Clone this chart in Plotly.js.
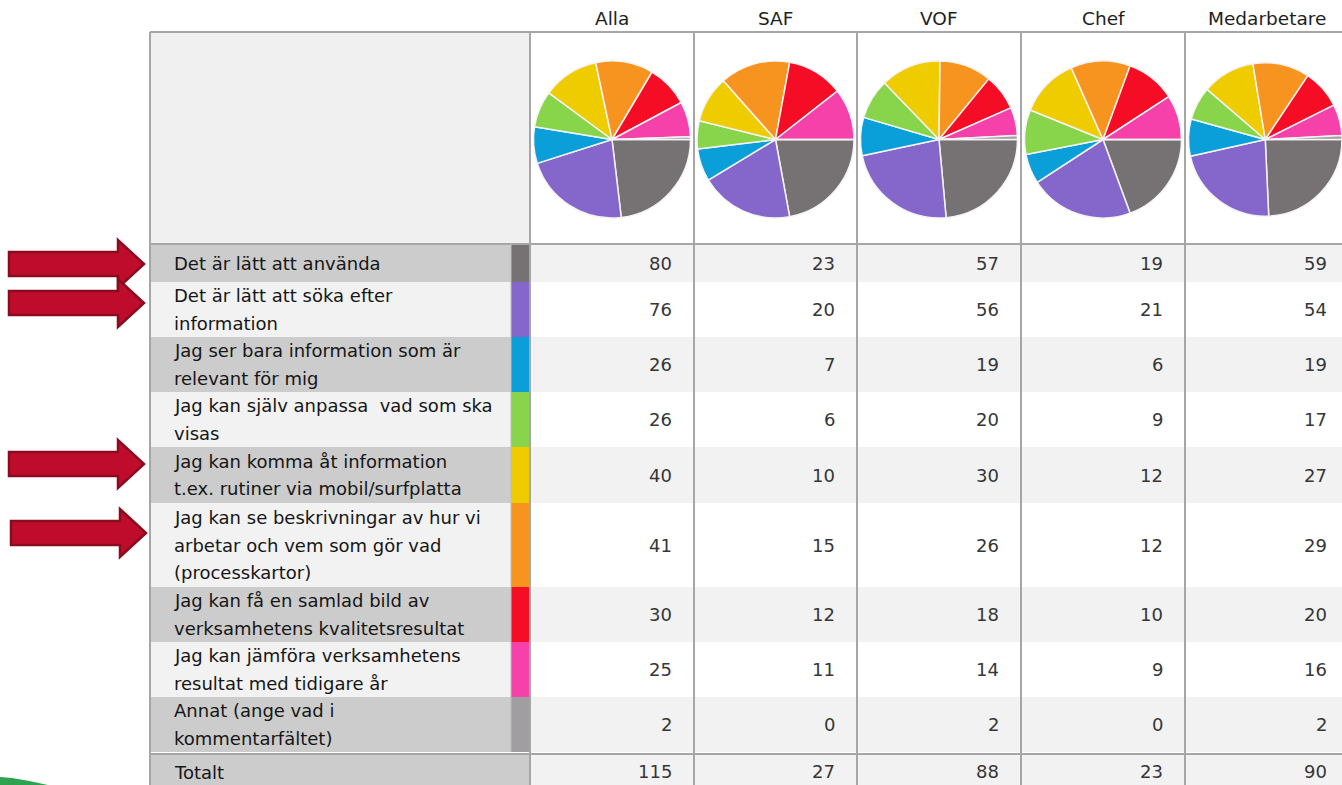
<!DOCTYPE html>
<html>
<head>
<meta charset="utf-8">
<script src="https://cdn.plot.ly/plotly-3.0.1.min.js"></script>
<style>
html,body{margin:0;padding:0;background:#fff;}
#chart{width:1342px;height:785px;}
</style>
</head>
<body>
<div id="chart"></div>
<script>
// ---------- DATA ----------
const groups = ['Alla', 'SAF', 'VOF', 'Chef', 'Medarbetare'];
const categories = [
  'Det är lätt att använda',
  'Det är lätt att söka efter<br>information',
  'Jag ser bara information som är<br>relevant för mig',
  'Jag kan själv anpassa  vad som ska<br>visas',
  'Jag kan komma åt information<br>t.ex. rutiner via mobil/surfplatta',
  'Jag kan se beskrivningar av hur vi<br>arbetar och vem som gör vad<br>(processkartor)',
  'Jag kan få en samlad bild av<br>verksamhetens kvalitetsresultat',
  'Jag kan jämföra verksamhetens<br>resultat med tidigare år',
  'Annat (ange vad i<br>kommentarfältet)'
];
const alla        = [80, 76, 26, 26, 40, 41, 30, 25, 2];
const saf         = [23, 20, 7, 6, 10, 15, 12, 11, 0];
const vof         = [57, 56, 19, 20, 30, 26, 18, 14, 2];
const chef        = [19, 21, 6, 9, 12, 12, 10, 9, 0];
const medarbetare = [59, 54, 19, 17, 27, 29, 20, 16, 2];
const totalLabel  = 'Totalt';
const totals      = [115, 27, 88, 23, 90];
const sliceColors = ['#767274', '#8567cb', '#0a9fd8', '#88d44a', '#efcc00',
                     '#f7941f', '#f50c25', '#f640aa', '#a09ea0'];

// ---------- LAYOUT GEOMETRY ----------
const W = 1342, H = 785;
const series = [alla, saf, vof, chef, medarbetare];
const colEdges = [530, 694, 857, 1021, 1185, 1349];
const tableLeft = 150, stripLeft = 511, stripRight = 530;
const topLine = 32, pieRowBottom = 244;
const rowEdges = [245, 282, 337, 392, 447, 503, 587, 642, 697, 752];
const totalTop = 755, totalBottom = 790;
const lineGap = 27.5;
const pieCy = 139.5, pieR = 78.5;
const borderColor = '#a6a6a6';
const FONT = 'DejaVu Sans, sans-serif';

const shapes = [];
const annotations = [];

function rect(x0, y0, x1, y1, fill) {
  shapes.push({type: 'rect', xref: 'x', yref: 'y', x0, y0, x1, y1,
    fillcolor: fill, line: {width: 0}, layer: 'below'});
}
function line(x0, y0, x1, y1, color, w) {
  shapes.push({type: 'line', xref: 'x', yref: 'y', x0, y0, x1, y1,
    line: {color: color, width: w}, layer: 'below'});
}
function text(x, y, t, anchor, size, color) {
  annotations.push({xref: 'x', yref: 'y', x, y, text: t, showarrow: false,
    xanchor: anchor, yanchor: 'middle', align: anchor,
    font: {family: FONT, size: size, color: color}});
}

// pie header row backgrounds
rect(tableLeft, topLine, stripRight, pieRowBottom, '#f0f0f0');

// category rows
categories.forEach((cat, i) => {
  const y0 = rowEdges[i], y1 = rowEdges[i + 1];
  const odd = i % 2 === 0;
  rect(tableLeft, y0, stripLeft, y1, odd ? '#cccccc' : '#f2f2f2');
  rect(stripLeft, y0, stripRight, y1, sliceColors[i]);
  rect(stripRight, y0, colEdges[colEdges.length - 1], y1, odd ? '#f2f2f2' : '#ffffff');
  const lines = cat.split('<br>');
  const cy = (y0 + y1) / 2;
  lines.forEach((ln, k) => {
    text(172, cy + (k - (lines.length - 1) / 2) * lineGap, ln, 'left', 18, '#161616');
  });
  series.forEach((s, g) => {
    text(colEdges[g + 1] - 20, cy, String(s[i]), 'right', 18, '#363636');
  });
});

// total row
rect(tableLeft, totalTop, stripRight, totalBottom, '#cccccc');
rect(stripRight, totalTop, colEdges[colEdges.length - 1], totalBottom, '#f2f2f2');
text(172, 772, totalLabel, 'left', 18, '#161616');
totals.forEach((t, g) => text(colEdges[g + 1] - 20, 771, String(t), 'right', 18, '#363636'));

// header labels
groups.forEach((g, k) => text((colEdges[k] + colEdges[k + 1]) / 2, 18, g, 'center', 18.5, '#1e1e1e'));

// borders
line(tableLeft, topLine, W, topLine, borderColor, 2);
line(tableLeft, pieRowBottom, W, pieRowBottom, borderColor, 2);
line(tableLeft, 754, W, 754, borderColor, 2);
line(tableLeft, topLine, tableLeft, H + 5, borderColor, 2);
colEdges.slice(0, 5).forEach(x => line(x, topLine, x, H + 5, borderColor, 2));
line(stripLeft, pieRowBottom, stripLeft, 752, '#bdbdbd', 1);

// decorative arrows
function arrow(left, base, tip, cy) {
  const s = 12, h = 24;
  shapes.push({type: 'path', xref: 'x', yref: 'y',
    path: `M ${left} ${cy - s} L ${base} ${cy - s} L ${base} ${cy - h} L ${tip} ${cy} L ${base} ${cy + h} L ${base} ${cy + s} L ${left} ${cy + s} Z`,
    fillcolor: '#c00c2c', line: {color: '#8a0a1e', width: 2.5}, layer: 'above'});
}
arrow(9, 118, 144, 264);
arrow(9, 118, 144, 303);
arrow(9, 118, 144, 464);
arrow(11, 120, 146, 533);

// green corner decoration
shapes.push({type: 'path', xref: 'x', yref: 'y',
  path: 'M 0 777 L 12 778 Q 32 781 52 786 L 0 786 Z',
  fillcolor: '#2ea24f', line: {width: 0}, layer: 'above'});

// ---------- TRACES ----------
const traces = series.map((vals, g) => {
  const cx = (colEdges[g] + colEdges[g + 1]) / 2;
  return {
    type: 'pie',
    values: vals,
    labels: categories,
    sort: false,
    direction: 'clockwise',
    rotation: 90,
    textinfo: 'none',
    hoverinfo: 'skip',
    showlegend: false,
    marker: {colors: sliceColors, line: {color: '#f4f4f4', width: 1.5}},
    domain: {x: [(cx - pieR) / W, (cx + pieR) / W],
             y: [1 - (pieCy + pieR) / H, 1 - (pieCy - pieR) / H]}
  };
});

const layout = {
  width: W, height: H,
  margin: {l: 0, r: 0, t: 0, b: 0},
  paper_bgcolor: '#ffffff', plot_bgcolor: 'rgba(0,0,0,0)',
  xaxis: {range: [0, W], visible: false, fixedrange: true},
  yaxis: {range: [H, 0], visible: false, fixedrange: true},
  shapes, annotations, showlegend: false
};

Plotly.newPlot('chart', traces, layout, {staticPlot: true, displayModeBar: false});
</script>
</body>
</html>
